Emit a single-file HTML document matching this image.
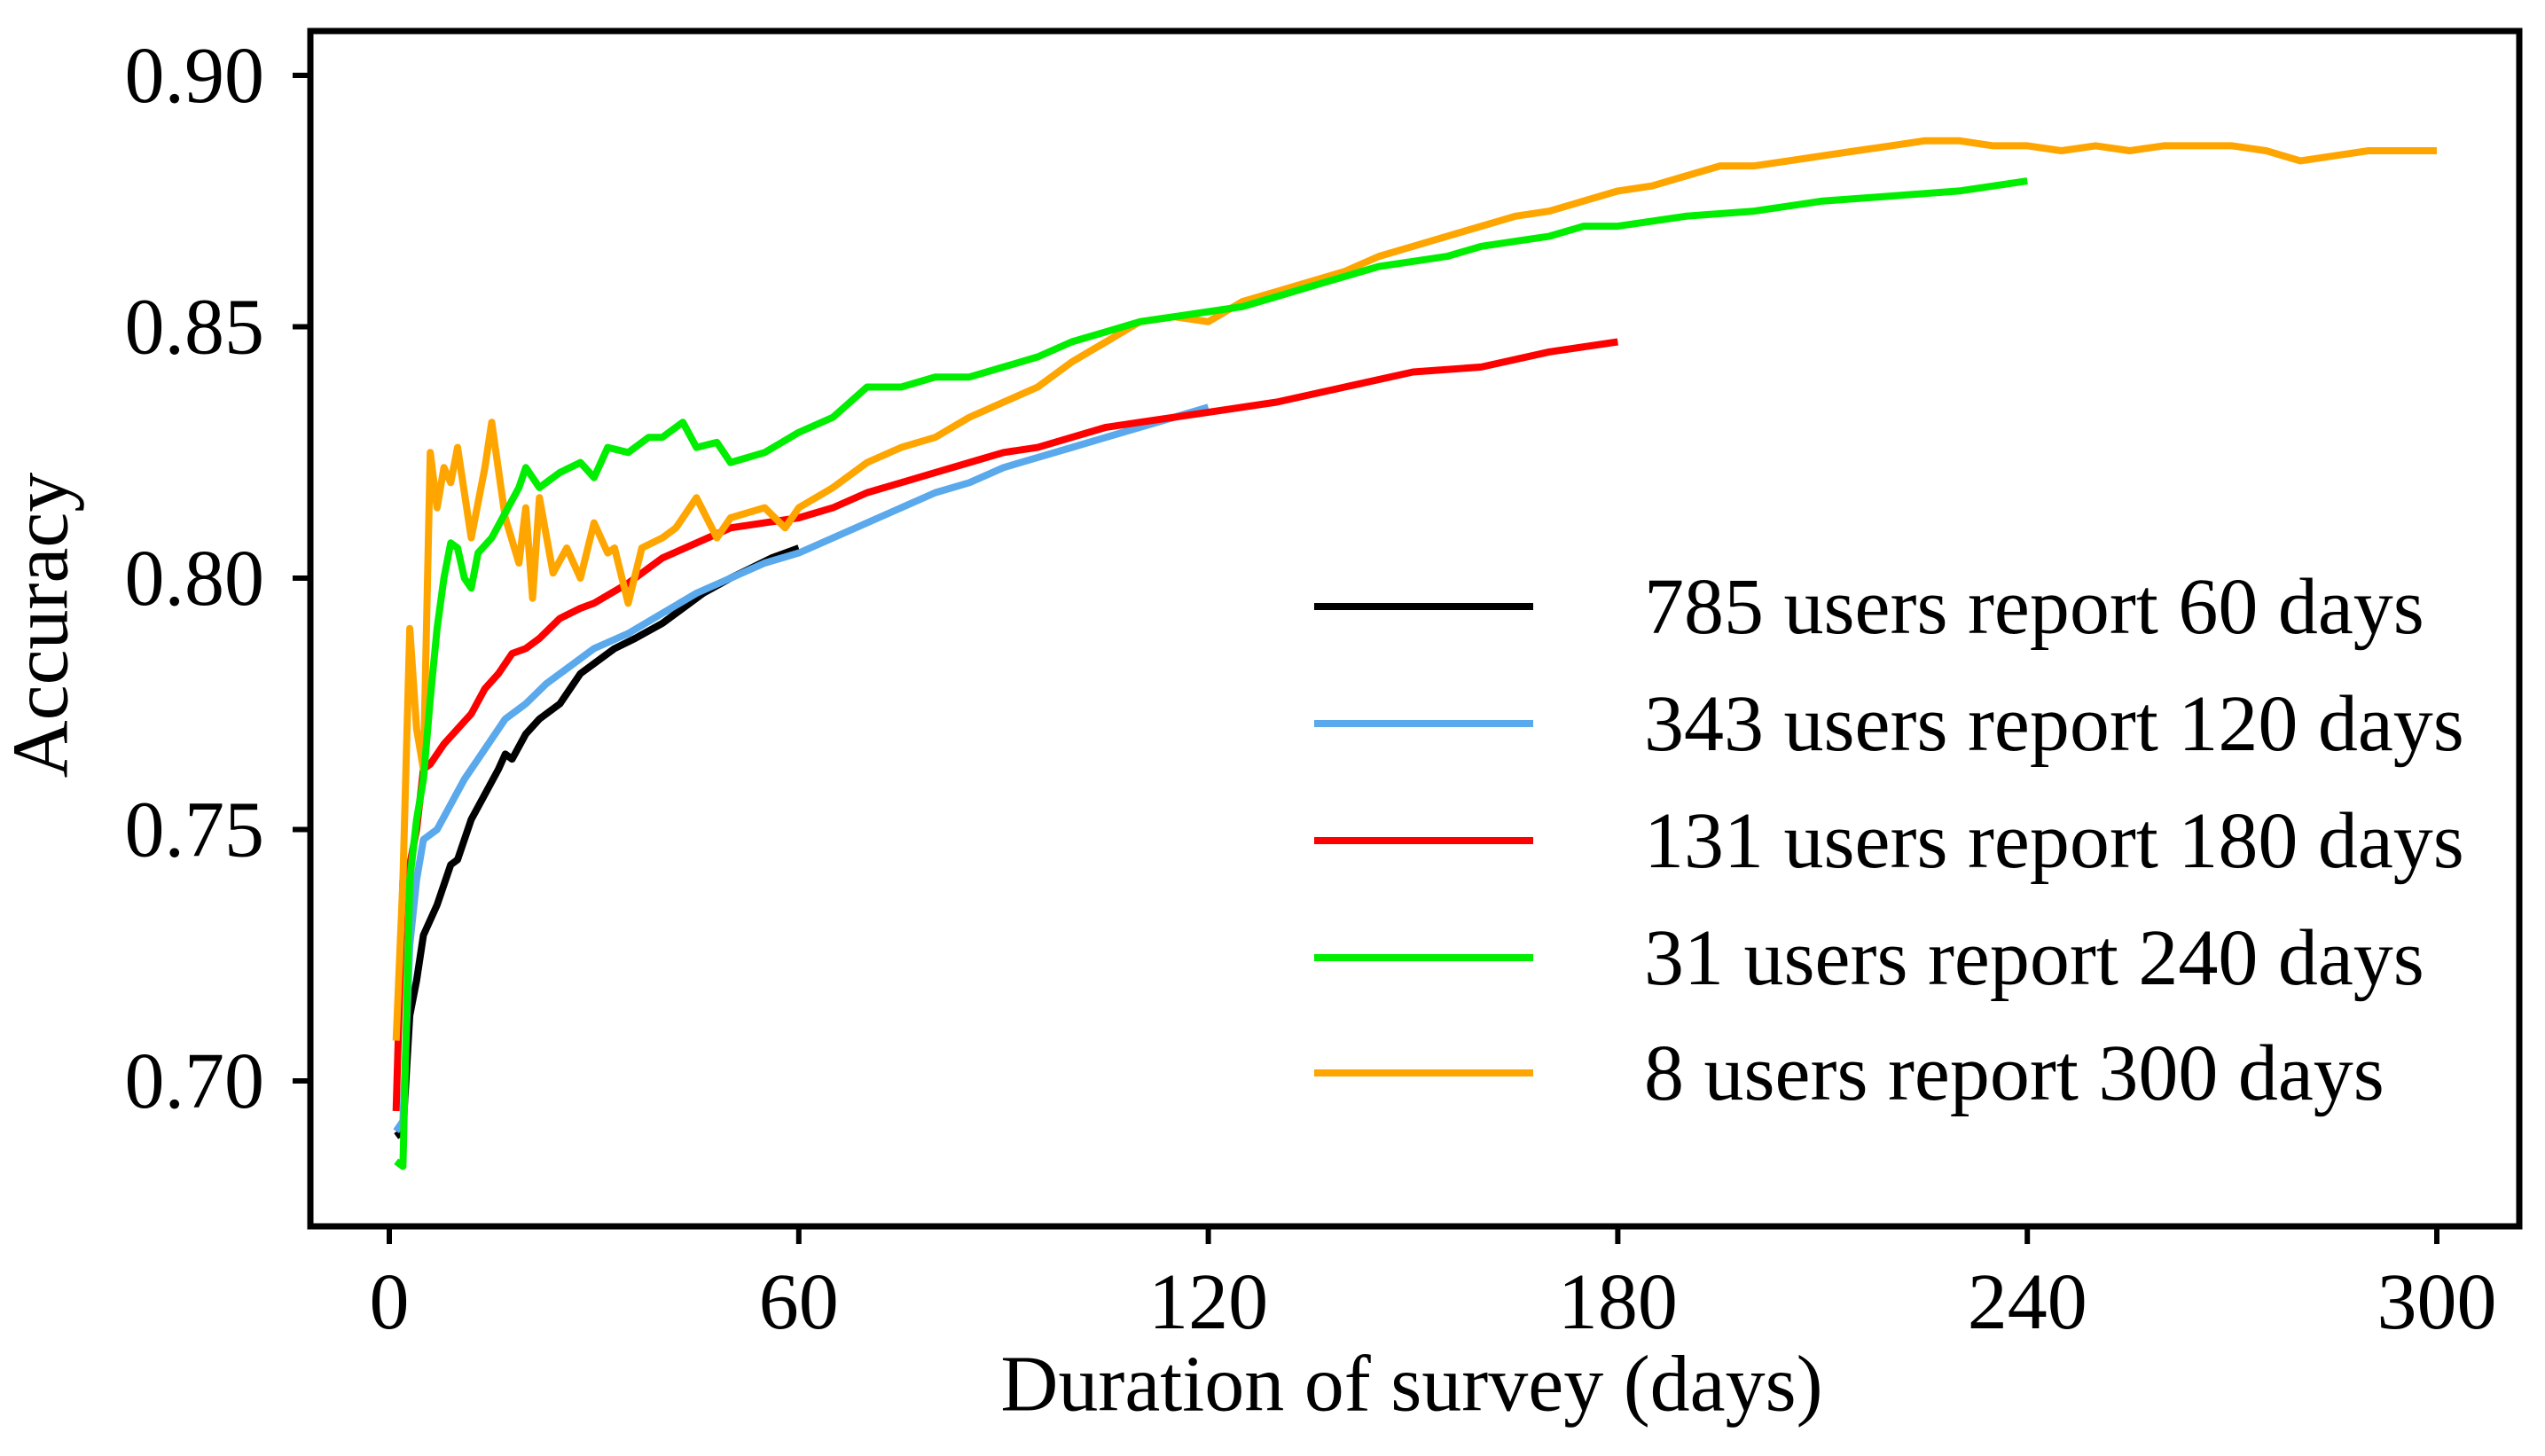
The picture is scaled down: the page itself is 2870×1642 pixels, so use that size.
<!DOCTYPE html>
<html><head><meta charset="utf-8"><style>
html,body{margin:0;padding:0;background:#fff;}
svg{display:block;}
text{font-family:"Liberation Serif",serif;fill:#000;}
</style></head><body>
<svg id="chart" width="2870" height="1642" viewBox="0 0 2870 1642">
<rect x="350" y="35" width="2491" height="1348" fill="none" stroke="#000" stroke-width="7"/>
<g id="yaxis"></g>
<g id="xaxis"></g>
<g id="series"></g>
<g id="legend"></g>
<text x="55" y="705" font-size="90" text-anchor="middle" dominant-baseline="middle" transform="rotate(-90 55 705)">Accuracy</text>
<text x="1592" y="1570" font-size="90" text-anchor="middle" dominant-baseline="middle">Duration of survey (days)</text>
</svg>
<script>
const yTicks=[0.70,0.75,0.80,0.85,0.90];
const yTickLabels=["0.70","0.75","0.80","0.85","0.90"];
const xTicks=[0,60,120,180,240,300];
const xTickLabels=["0","60","120","180","240","300"];
const seriesNames=["785 users report 60 days","343 users report 120 days","131 users report 180 days","31 users report 240 days","8 users report 300 days"];
const seriesColors=["#000000","#5aa9ec","#ff0000","#00ee00","#ffa500"];
const blackDays=[1,2,3,4,5,7,9,10,12,14,16,17,18,20,22,25,28,30,33,36,40,43,46,50,53,56,60];
const blackVals=[0.689,0.690,0.713,0.720,0.729,0.735,0.743,0.744,0.752,0.757,0.762,0.765,0.764,0.769,0.772,0.775,0.781,0.783,0.786,0.788,0.791,0.794,0.797,0.800,0.802,0.804,0.806];
const blueDays=[1,2,3,4,5,7,9,11,13,15,17,20,23,26,30,35,40,45,50,55,60,65,70,75,80,85,90,95,100,105,110,115,120];
const blueVals=[0.690,0.692,0.727,0.740,0.748,0.750,0.755,0.760,0.764,0.768,0.772,0.775,0.779,0.782,0.786,0.789,0.793,0.797,0.800,0.803,0.805,0.808,0.811,0.814,0.817,0.819,0.822,0.824,0.826,0.828,0.830,0.832,0.834];
const redDays=[1,2,3,4,5,6,8,10,12,14,16,18,20,22,25,28,30,35,40,45,50,55,60,65,70,75,80,85,90,95,100,105,110,115,120,130,140,150,160,170,180];
const redVals=[0.694,0.740,0.743,0.750,0.762,0.763,0.767,0.770,0.773,0.778,0.781,0.785,0.786,0.788,0.792,0.794,0.795,0.799,0.804,0.807,0.810,0.811,0.812,0.814,0.817,0.819,0.821,0.823,0.825,0.826,0.828,0.830,0.831,0.832,0.833,0.835,0.838,0.841,0.842,0.845,0.847];
const greenDays=[1,2,3,4,5,6,7,8,9,10,11,12,13,15,17,19,20,22,25,28,30,32,35,38,40,43,45,48,50,55,60,65,70,75,80,85,90,95,100,105,110,115,120,125,130,135,140,145,150,155,160,165,170,175,180,190,200,210,220,230,240];
const greenVals=[0.684,0.683,0.740,0.752,0.760,0.776,0.790,0.800,0.807,0.806,0.800,0.798,0.805,0.808,0.813,0.818,0.822,0.818,0.821,0.823,0.820,0.826,0.825,0.828,0.828,0.831,0.826,0.827,0.823,0.825,0.829,0.832,0.838,0.838,0.840,0.840,0.842,0.844,0.847,0.849,0.851,0.852,0.853,0.854,0.856,0.858,0.860,0.862,0.863,0.864,0.866,0.867,0.868,0.870,0.870,0.872,0.873,0.875,0.876,0.877,0.879];
const orangeDays=[1,2,3,4,5,6,7,8,9,10,12,14,15,17,19,20,21,22,24,26,28,30,32,33,35,37,40,42,45,48,50,55,58,60,65,70,75,80,85,90,95,100,105,110,115,120,125,130,135,140,145,150,155,160,165,170,175,180,185,190,195,200,205,210,215,220,225,230,235,240,245,250,255,260,265,270,275,280,285,290,295,300];
const orangeVals=[0.708,0.740,0.790,0.770,0.762,0.825,0.814,0.822,0.819,0.826,0.808,0.822,0.831,0.812,0.803,0.814,0.796,0.816,0.801,0.806,0.800,0.811,0.805,0.806,0.795,0.806,0.808,0.810,0.816,0.808,0.812,0.814,0.810,0.814,0.818,0.823,0.826,0.828,0.832,0.835,0.838,0.843,0.847,0.851,0.852,0.851,0.855,0.857,0.859,0.861,0.864,0.866,0.868,0.870,0.872,0.873,0.875,0.877,0.878,0.880,0.882,0.882,0.883,0.884,0.885,0.886,0.887,0.887,0.886,0.886,0.885,0.886,0.885,0.886,0.886,0.886,0.885,0.883,0.884,0.885,0.885,0.885];

const NS="http://www.w3.org/2000/svg";
function xS(d){return 439+(d/60)*461.8;}
function yS(v){return 1219-(v-0.70)/0.05*283.5;}
const yax=document.getElementById('yaxis');
yTicks.forEach((t,i)=>{
  const l=document.createElementNS(NS,'line');
  l.setAttribute('x1',330);l.setAttribute('x2',350);l.setAttribute('y1',yS(t));l.setAttribute('y2',yS(t));
  l.setAttribute('stroke','#000');l.setAttribute('stroke-width',6);
  
  
  yax.appendChild(l);
  const tx=document.createElementNS(NS,'text');
  tx.setAttribute('x',298);tx.setAttribute('y',yS(t)+30);tx.setAttribute('font-size',90);tx.setAttribute('text-anchor','end');
  tx.textContent=yTickLabels[i];
  
  
  yax.appendChild(tx);
});
const xax=document.getElementById('xaxis');
xTicks.forEach((t,i)=>{
  const l=document.createElementNS(NS,'line');
  l.setAttribute('x1',xS(t));l.setAttribute('x2',xS(t));l.setAttribute('y1',1383);l.setAttribute('y2',1403);
  l.setAttribute('stroke','#000');l.setAttribute('stroke-width',6);
  
  
  xax.appendChild(l);
  const tx=document.createElementNS(NS,'text');
  tx.setAttribute('x',xS(t));tx.setAttribute('y',1498);tx.setAttribute('font-size',90);tx.setAttribute('text-anchor','middle');
  tx.textContent=xTickLabels[i];
  
  
  xax.appendChild(tx);
});
const allDays=[blackDays,blueDays,redDays,greenDays,orangeDays];
const allVals=[blackVals,blueVals,redVals,greenVals,orangeVals];
const sg=document.getElementById('series');
const order=[0,1,2,4,3];
order.forEach(k=>{
  const p=document.createElementNS(NS,'polyline');
  p.setAttribute('points',allDays[k].map((d,i)=>xS(d).toFixed(1)+','+yS(allVals[k][i]).toFixed(1)).join(' '));
  p.setAttribute('fill','none');p.setAttribute('stroke',seriesColors[k]);p.setAttribute('stroke-width',8);p.setAttribute('stroke-linejoin','round');
  
  
  sg.appendChild(p);
});
const lg=document.getElementById('legend');
const legendY=[684,816,948,1080,1210];
seriesNames.forEach((n,k)=>{
  const g=document.createElementNS(NS,'g');
  
  
  const l=document.createElementNS(NS,'line');
  l.setAttribute('x1',1482);l.setAttribute('x2',1729);l.setAttribute('y1',legendY[k]);l.setAttribute('y2',legendY[k]);
  l.setAttribute('stroke',seriesColors[k]);l.setAttribute('stroke-width',8);
  
  
  g.appendChild(l);
  const tx=document.createElementNS(NS,'text');
  tx.setAttribute('x',1854);tx.setAttribute('y',legendY[k]+30);tx.setAttribute('font-size',90);
  tx.textContent=n;
  
  
  g.appendChild(tx);
  lg.appendChild(g);
});
</script>
</body></html>
